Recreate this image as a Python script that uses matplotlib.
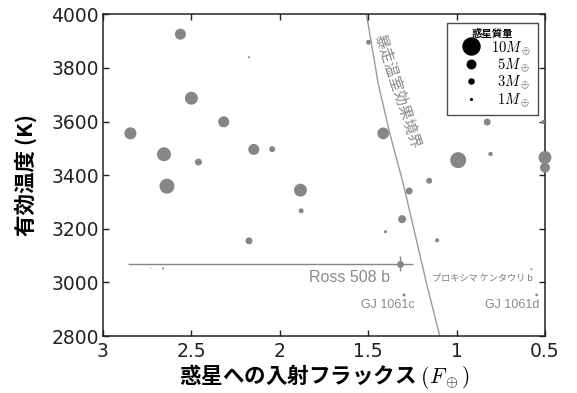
import numpy as np
import matplotlib
matplotlib.use("Agg")
import matplotlib.pyplot as plt
from matplotlib.lines import Line2D

plt.rcParams['font.family'] = ['Liberation Sans', 'Noto Sans CJK JP', 'DejaVu Sans']
plt.rcParams['mathtext.fontset'] = 'cm'

# planets: incident flux (F_earth), stellar Teff (K), mass (M_earth)
flux = [2.562, 2.50, 2.317, 2.845, 2.655, 2.46, 2.638,
        2.147, 2.043, 1.883, 1.879, 2.174, 2.174, 1.498,
        1.415, 0.991, 1.155, 1.268, 1.308, 1.402, 1.11,
        0.827, 0.51, 0.808, 0.5, 0.5,
        2.73, 2.66]
teff = [3926, 3687, 3599, 3556, 3478, 3449, 3359,
        3496, 3497, 3344, 3267, 3155, 3840, 3896,
        3556, 3456, 3379, 3341, 3236, 3189, 3157,
        3598, 3598, 3479, 3466, 3428,
        3052, 3052]
mass = [6.5, 7.6, 6.5, 7.1, 8.2, 4.1, 8.8,
        6.5, 3.5, 7.6, 2.9, 4.1, 1.2, 2.9,
        6.9, 9.4, 3.5, 4.1, 4.7, 1.8, 2.4,
        4.1, 2.4, 2.6, 7.6, 5.9,
        0.6, 1.2]

# named planets
named = ["GJ 1061c", "GJ 1061d", "プロキシマ ケンタウリ b"]
named_flux = [1.297, 0.547, 0.576]
named_teff = [2953, 2953, 3049]
named_mass = [1.74, 1.64, 1.07]

# Ross 508 b with asymmetric flux error
ross_flux = 1.321
ross_teff = 3070
ross_mass = 4.0
ross_xerr = [[0.076], [1.537]]
ross_yerr = 28

# runaway greenhouse limit
rg_flux = [1.509, 1.476, 1.444, 1.411, 1.378, 1.340, 1.302, 1.269,
           1.236, 1.203, 1.170, 1.132, 1.094]
rg_teff = [3997, 3870, 3743, 3650, 3556, 3462, 3369, 3276,
           3183, 3090, 2996, 2897, 2797]

legend_mass = [10, 5, 3, 1]
legend_labels = [r'$10M_\oplus$', r'$\enspace5M_\oplus$',
                 r'$\enspace3M_\oplus$', r'$\enspace1M_\oplus$']

pt_color = '#86868a'
txt_color = '#8a8a8a'
cjk = ['Noto Sans CJK JP', 'DejaVu Sans']


def msize(m):
    # marker diameter in points, linear in mass
    return 1.224 * np.asarray(m)


fig = plt.figure(figsize=(5.77, 3.93), dpi=100)
ax = fig.add_axes([0.1785, 0.145, 0.766, 0.8186])

ax.plot(rg_flux, rg_teff, color='#9a9a9a', lw=1.0, zorder=1)
ax.text(1.335, 3712, '暴走温室効果境界', rotation=-72, color=txt_color,
        fontsize=10.8, ha='center', va='center', family=cjk,
        rotation_mode='anchor')

ax.scatter(flux, teff, s=msize(mass) ** 2, color=pt_color, lw=0, zorder=3, clip_on=False)
ax.scatter(named_flux, named_teff, s=msize(named_mass) ** 2, color=pt_color, lw=0, zorder=3)

ax.errorbar(ross_flux, ross_teff, xerr=ross_xerr, yerr=ross_yerr, fmt='o',
            ms=msize(ross_mass), color=pt_color, ecolor=pt_color,
            elinewidth=1.0, capsize=2.5, capthick=1.0, mew=0, zorder=4)

ax.text(1.378, 3017, 'Ross 508 b', color=txt_color, fontsize=11.5, ha='right', va='center')
ax.text(1.236, 2917, named[0], color=txt_color, fontsize=9, ha='right', va='center')
ax.text(0.534, 2917, named[1], color=txt_color, fontsize=9, ha='right', va='center')
ax.text(0.568, 3016, named[2], color='#7a7a7a', fontsize=6.6,
        ha='right', va='center', family=cjk)

ax.set_xlim(3, 0.5)
ax.set_ylim(2800, 4000)
ax.set_xticks([3, 2.5, 2, 1.5, 1, 0.5])
ax.set_xticklabels(['3', '2.5', '2', '1.5', '1', '0.5'])
ax.set_yticks(np.arange(2800, 4001, 200))
ax.tick_params(direction='in', top=True, right=True, length=4, width=1,
               labelsize=13.5, colors='#222222')
ax.tick_params(axis='y', pad=3)
ax.tick_params(axis='x', pad=4)
for lab in ax.get_xticklabels() + ax.get_yticklabels():
    lab.set_family('DejaVu Sans')
for sp in ax.spines.values():
    sp.set_linewidth(1.1)
    sp.set_color('#222222')

ax.set_ylabel('有効温度 (K)', fontsize=15.5, fontweight='bold', family=cjk, labelpad=10)
ax.set_xlabel('惑星への入射フラックス $(F_\\oplus)$', fontsize=15.5, fontweight='bold',
              family=cjk, labelpad=1)

handles = [Line2D([], [], ls='none', marker='o', color='k', ms=msize(m))
           for m in legend_mass]
leg = ax.legend(handles, legend_labels, title='惑星質量', loc='upper right',
                bbox_to_anchor=(0.984, 0.974), frameon=True, fancybox=False,
                edgecolor='#222222', fontsize=10.5, handlelength=2.4,
                handletextpad=0.2, labelspacing=0.0, borderpad=0.45,
                borderaxespad=0,
                title_fontproperties={'family': 'Noto Sans CJK JP',
                                      'weight': 'bold', 'size': 7.5})
leg.get_frame().set_linewidth(1.0)

fig.savefig('out.png', dpi=100)
